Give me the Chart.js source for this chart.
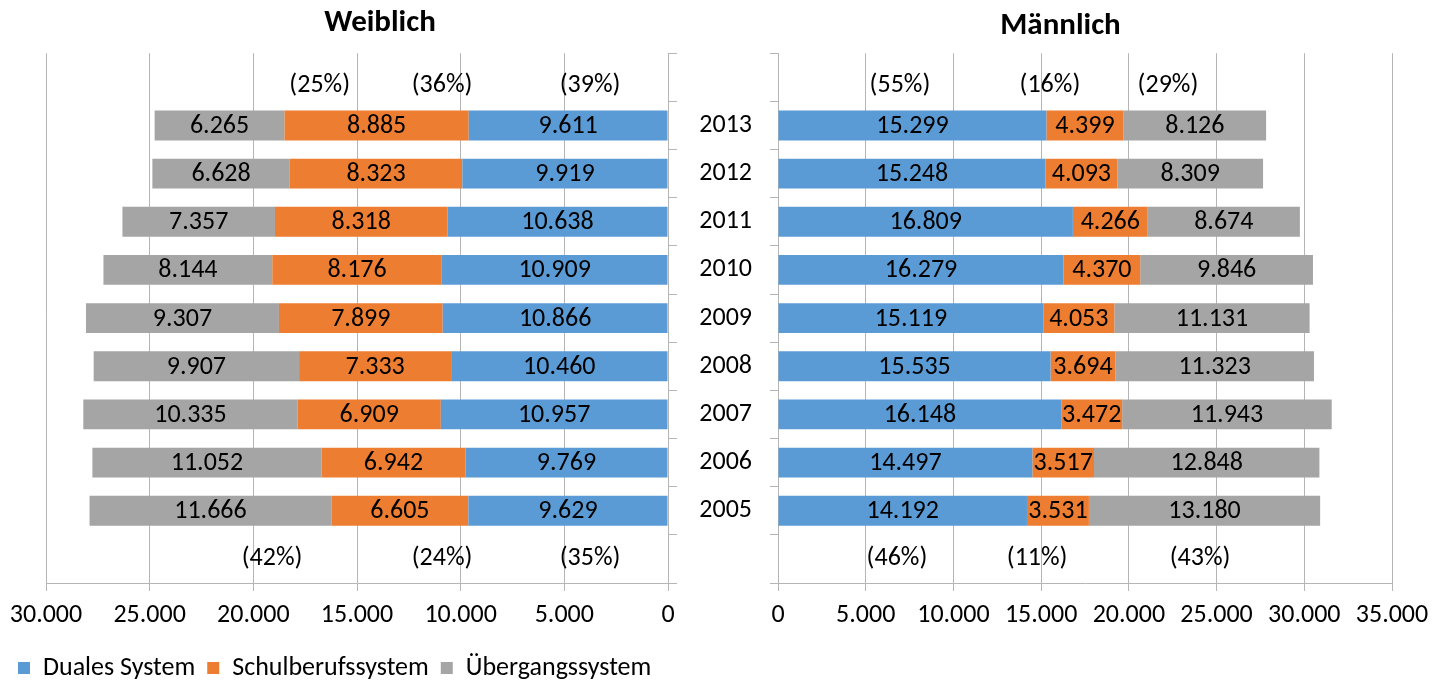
<!DOCTYPE html>
<html>
<head>
<meta charset="utf-8">
<script src="https://cdn.jsdelivr.net/npm/chart.js@4"></script>
<style>
  body { margin: 0; background: #fff; }
  #wrap { position: relative; width: 1441px; height: 684px; }
  canvas { position: absolute; top: 0; }
</style>
</head>
<body>
<div id="wrap">
  <canvas id="left" width="754" height="684" style="left:0"></canvas>
  <canvas id="right" width="761" height="684" style="left:680px"></canvas>
</div>
<script>
// years, top to bottom
const years = ['2013', '2012', '2011', '2010', '2009', '2008', '2007', '2006', '2005'];
const seriesNames = ['Duales System', 'Schulberufssystem', 'Übergangssystem'];

const femDual = [9611, 9919, 10638, 10909, 10866, 10460, 10957, 9769, 9629];
const femSchul = [8885, 8323, 8318, 8176, 7899, 7333, 6909, 6942, 6605];
const femUeber = [6265, 6628, 7357, 8144, 9307, 9907, 10335, 11052, 11666];

const malDual = [15299, 15248, 16809, 16279, 15119, 15535, 16148, 14497, 14192];
const malSchul = [4399, 4093, 4266, 4370, 4053, 3694, 3472, 3517, 3531];
const malUeber = [8126, 8309, 8674, 9846, 11131, 11323, 11943, 12848, 13180];

// shares printed above 2013 and below 2005
const femPctTop = ['(25%)', '(36%)', '(39%)'];
const femPctBottom = ['(42%)', '(24%)', '(35%)'];
const malPctTop = ['(55%)', '(16%)', '(29%)'];
const malPctBottom = ['(46%)', '(11%)', '(43%)'];

const colors = ['#5B9BD5', '#ED7D31', '#A5A5A5'];
const gridColor = '#b5b5b5';
const fontFamily = 'Carlito, Lato, sans-serif';
const textSize = 26;

Chart.defaults.font.family = fontFamily;
Chart.defaults.color = '#000';

const fmt = v => String(v).replace(/\B(?=(\d{3})+(?!\d))/g, '.');
// empty slot above and below the years for the percentage labels
const pad = arr => [null, ...arr, null];
const cats = ['', ...years, ''];

const valueLabels = {
    id: 'valueLabels',
    afterDatasetsDraw(chart) {
        const ctx = chart.ctx;
        ctx.save();
        ctx.font = textSize + 'px ' + fontFamily;
        ctx.fillStyle = '#000';
        ctx.textAlign = 'center';
        ctx.textBaseline = 'middle';
        chart.data.datasets.forEach((ds, i) => {
            chart.getDatasetMeta(i).data.forEach((bar, j) => {
                if (ds.data[j] == null) return;
                ctx.fillText(fmt(ds.data[j]), (bar.x + bar.base) / 2, bar.y + 1);
            });
        });
        ctx.restore();
    }
};

const pctLabels = {
    id: 'pctLabels',
    afterDraw(chart, args, opts) {
        const ctx = chart.ctx;
        const x = chart.scales.x, y = chart.scales.y;
        ctx.save();
        ctx.font = textSize + 'px ' + fontFamily;
        ctx.fillStyle = '#000';
        ctx.textAlign = 'center';
        ctx.textBaseline = 'middle';
        const yTop = y.getPixelForValue(0);
        const yBot = y.getPixelForValue(cats.length - 1);
        opts.top.forEach((t, i) => ctx.fillText(t, x.getPixelForValue(opts.at[i]), yTop + 8));
        opts.bottom.forEach((t, i) => ctx.fillText(t, x.getPixelForValue(opts.atBottom[i]), yBot));
        ctx.restore();
    }
};

function makeDatasets(vals) {
    return vals.map((v, k) => ({
        label: seriesNames[k],
        data: pad(v),
        backgroundColor: colors[k],
        borderWidth: 0,
        barPercentage: 0.62,
        categoryPercentage: 1
    }));
}

// Weiblich: reversed axis, legend below
new Chart(document.getElementById('left'), {
    type: 'bar',
    data: { labels: cats, datasets: makeDatasets([femDual, femSchul, femUeber]) },
    options: {
        indexAxis: 'y',
        responsive: false,
        animation: false,
        layout: { padding: { left: 6, right: 0, top: 0, bottom: 0 } },
        scales: {
            x: {
                stacked: true, reverse: true, min: 0, max: 30000,
                ticks: { stepSize: 5000, padding: 9, font: { size: textSize }, callback: v => fmt(v), maxRotation: 0 },
                grid: { color: gridColor, tickLength: 8, tickColor: gridColor },
                border: { color: gridColor },
                afterFit(s) { s.height = 60; s.paddingLeft = 46; }
            },
            y: {
                stacked: true, position: 'right',
                ticks: { display: false },
                grid: { drawOnChartArea: false, tickLength: 9, tickColor: gridColor },
                border: { color: gridColor },
                afterFit(s) { s.width = 86; }
            }
        },
        plugins: {
            title: { display: true, text: 'Weiblich', font: { size: 31, weight: 'bold' }, padding: { top: 5, bottom: 11 } },
            legend: {
                position: 'bottom', align: 'start', maxHeight: 41,
                labels: { boxWidth: 12, boxHeight: 12, padding: 12, font: { size: textSize } }
            },
            tooltip: { enabled: false },
            pctLabels: { top: femPctTop, bottom: femPctBottom, at: [16800, 10900, 3760], atBottom: [19100, 10900, 3760] }
        }
    },
    plugins: [valueLabels, pctLabels]
});

// Männlich
new Chart(document.getElementById('right'), {
    type: 'bar',
    data: { labels: cats, datasets: makeDatasets([malDual, malSchul, malUeber]) },
    options: {
        indexAxis: 'y',
        responsive: false,
        animation: false,
        layout: { padding: { left: 0, right: 0, top: 0, bottom: 41 } },
        scales: {
            x: {
                stacked: true, min: 0, max: 35000,
                ticks: { stepSize: 5000, padding: 9, font: { size: textSize }, callback: v => fmt(v), maxRotation: 0 },
                grid: { color: gridColor, tickLength: 8, tickColor: gridColor },
                border: { color: gridColor },
                afterFit(s) { s.height = 60; s.paddingRight = 49; }
            },
            y: {
                stacked: true,
                ticks: { padding: 18, font: { size: textSize } },
                grid: { drawOnChartArea: false, tickLength: 8, tickColor: gridColor },
                border: { color: gridColor },
                afterFit(s) { s.width = 98; }
            }
        },
        plugins: {
            title: { display: true, text: 'Männlich', font: { size: 31, weight: 'bold' }, padding: { top: 8, bottom: 8 } },
            legend: { display: false },
            tooltip: { enabled: false },
            pctLabels: { top: malPctTop, bottom: malPctBottom, at: [6950, 15500, 22230], atBottom: [6780, 14770, 24060] }
        }
    },
    plugins: [valueLabels, pctLabels]
});
</script>
</body>
</html>
